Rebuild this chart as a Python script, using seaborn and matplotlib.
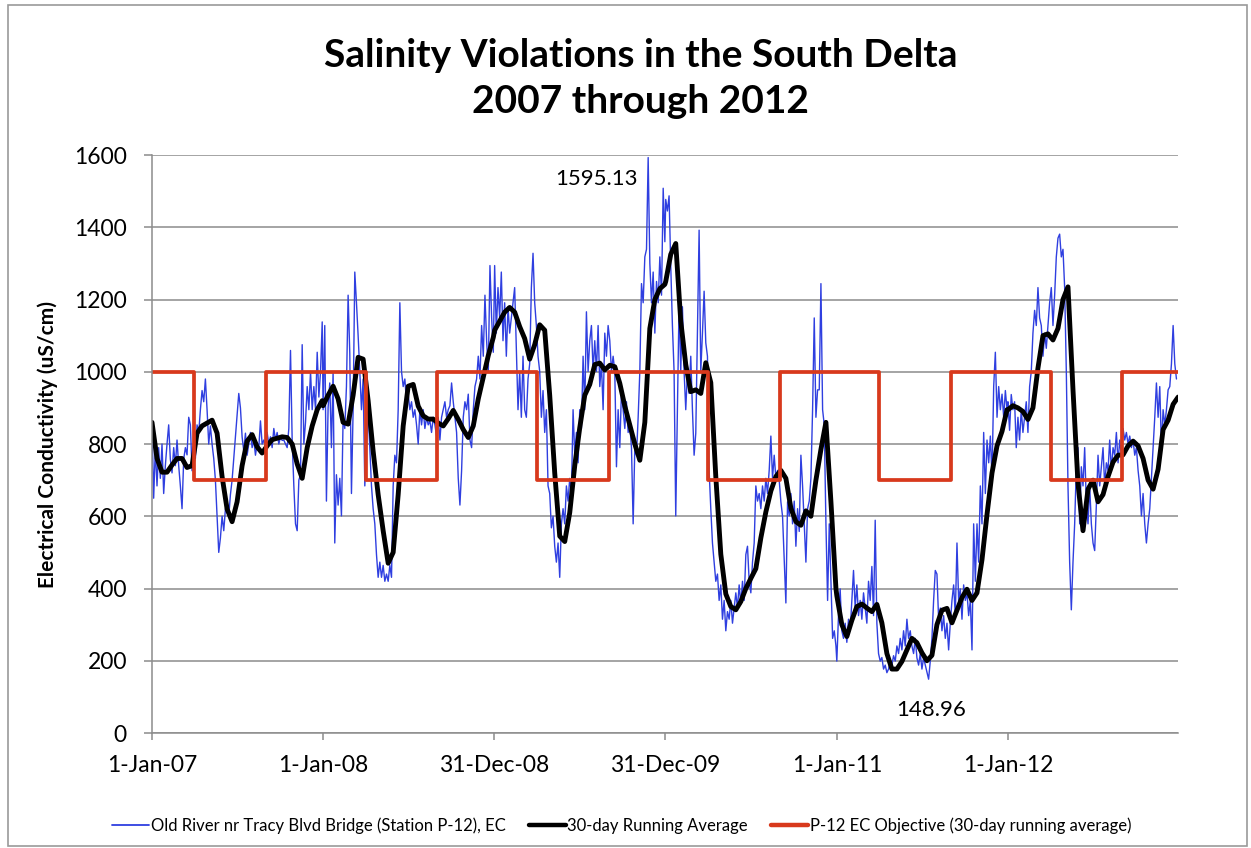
import numpy as np
import pandas as pd
import matplotlib
matplotlib.use("Agg")
import matplotlib.pyplot as plt
import matplotlib.dates as mdates
from matplotlib.lines import Line2D
from matplotlib.patches import Rectangle
import seaborn as sns

# ---------------- data ----------------
YEARS = [2007, 2008, 2009, 2010, 2011, 2012]

# Old River nr Tracy Blvd Bridge (Station P-12), EC  -- sampled about every 3.56 days
BLUE_STEP_DAYS = 3.56
BLUE_2007 = [860, 650, 790, 684, 790, 705, 800, 663, 740, 800, 853, 758, 720, 790, 740, 811, 740, 684, 621, 758,
             790, 770, 874, 853, 726, 790, 760, 853, 830, 895, 948, 917, 980, 895, 800, 850, 800, 760, 700, 600,
             500, 540, 600, 560, 620, 640, 600, 660, 700, 760, 820, 880, 940, 900, 820, 780, 830, 769, 800, 832,
             790, 811, 769, 800, 790, 864, 800, 811, 790, 832, 800, 820, 790, 843, 811, 832, 800, 820, 810, 811,
             800, 790, 843, 1059, 811, 684, 579, 560, 700, 715, 1075, 800, 860, 959, 895, 1001, 895, 959, 895, 1054,
             930, 1001, 1138]
BLUE_2008 = [895, 1128, 642, 900, 969, 790, 1000, 526, 715, 631, 705, 601, 874, 843, 959, 1212, 1050, 663, 895, 1276,
             1191, 1100, 1001, 895, 980, 684, 790, 895, 790, 684, 621, 579, 494, 431, 473, 431, 464, 420, 440, 420,
             464, 431, 684, 769, 748, 895, 1191, 1001, 959, 980, 917, 938, 895, 917, 874, 895, 853, 800, 895, 853,
             895, 843, 874, 853, 864, 832, 874, 853, 822, 874, 811, 874, 895, 917, 874, 895, 906, 969, 917, 874,
             832, 705, 631, 726, 874, 917, 895, 938, 811, 790, 895, 959, 980, 1043, 980, 1128, 1043, 1212, 1086, 1001,
             1294, 1150, 1054]
BLUE_2009 = [1294, 1107, 1233, 1150, 1276, 1086, 1191, 1043, 1180, 1107, 1150, 1191, 1233, 1065, 895, 1001, 874, 1043, 895, 874,
             980, 1022, 1233, 1328, 1191, 1128, 1043, 1001, 874, 948, 832, 895, 684, 663, 568, 600, 517, 473, 526, 431,
             579, 621, 579, 684, 642, 705, 663, 895, 769, 832, 748, 895, 843, 1043, 895, 1166, 1001, 1086, 1128, 1001,
             1086, 1001, 1128, 959, 1022, 895, 1107, 1043, 1128, 1086, 1001, 1043, 1001, 737, 895, 790, 948, 895, 843, 917,
             832, 853, 790, 579, 790, 769, 874, 1001, 1244, 1191, 1318, 1339, 1593, 1300, 1191, 1276, 1107, 1250, 1191, 1318,
             1212, 1508, 1360]
BLUE_2010 = [1477, 1445, 1487, 1294, 1128, 1001, 601, 900, 1191, 1001, 1180, 1001, 895, 1001, 940, 1043, 895, 769, 830, 1107,
             1392, 1001, 1107, 1223, 1080, 1043, 727, 621, 526, 473, 420, 440, 367, 410, 315, 367, 283, 336, 315, 367,
             304, 346, 388, 346, 410, 357, 420, 367, 494, 517, 420, 388, 473, 526, 684, 642, 663, 621, 684, 642,
             705, 663, 727, 822, 705, 769, 705, 727, 700, 640, 600, 480, 360, 640, 601, 663, 579, 642, 517, 621,
             558, 769, 684, 579, 473, 621, 642, 705, 895, 1149, 874, 950, 950, 1244, 895, 853, 579, 367, 579, 420,
             262, 283, 241]
BLUE_2011 = [199, 325, 399, 283, 262, 304, 251, 315, 283, 367, 450, 346, 410, 325, 367, 315, 388, 346, 304, 420,
             367, 461, 325, 589, 304, 220, 199, 209, 177, 188, 167, 177, 199, 188, 214, 199, 241, 220, 262, 230,
             283, 241, 315, 262, 283, 241, 220, 262, 208, 188, 220, 177, 208, 188, 167, 149, 199, 262, 367, 450,
             440, 315, 346, 283, 325, 262, 304, 230, 304, 367, 410, 325, 526, 367, 399, 315, 410, 367, 388, 325,
             367, 230, 579, 420, 579, 473, 684, 579, 832, 663, 811, 748, 822, 705, 959, 1054, 874, 959, 895, 938,
             874, 948, 895]
BLUE_2012 = [917, 838, 937, 895, 917, 790, 874, 811, 895, 832, 874, 917, 832, 959, 1001, 1107, 1170, 1128, 1233, 1149,
             1128, 1043, 1107, 1065, 1128, 1191, 1233, 1128, 1212, 1318, 1370, 1381, 1318, 1339, 1233, 1001, 684, 473, 341, 473,
             579, 737, 790, 579, 737, 684, 790, 632, 579, 684, 579, 526, 505, 632, 769, 684, 737, 790, 684, 748,
             727, 811, 727, 790, 769, 832, 748, 811, 769, 843, 811, 832, 800, 822, 790, 811, 769, 790, 727, 684,
             601, 663, 579, 526, 579, 621, 705, 790, 874, 969, 874, 959, 790, 895, 853, 895, 950, 959, 1022, 1128,
             1022, 980]

# 30-day Running Average -- sampled about every 10.68 days
BLACK_STEP_DAYS = 10.68
BLACK_2007 = [860, 760, 722, 722, 742, 760, 760, 735, 740, 830, 850, 858, 866, 830, 710, 620, 585, 640, 740, 808,
              826, 792, 775, 795, 812, 816, 820, 818, 800, 745, 705, 790, 850, 895, 920]
BLACK_2008 = [906, 935, 960, 925, 860, 855, 935, 1040, 1035, 920, 780, 660, 560, 470, 500, 660, 850, 960, 965, 905,
              878, 869, 869, 858, 850, 870, 893, 868, 840, 818, 850, 925, 985, 1045, 1095]
BLACK_2009 = [1115, 1140, 1165, 1178, 1165, 1125, 1092, 1035, 1075, 1130, 1115, 935, 720, 545, 530, 610, 740, 845, 935, 965,
              1020, 1024, 1005, 1018, 1014, 968, 905, 853, 800, 755, 860, 1120, 1200, 1230, 1242]
BLACK_2010 = [1250, 1325, 1355, 1140, 1020, 945, 950, 940, 1025, 970, 710, 495, 385, 350, 341, 364, 400, 428, 455, 540,
              612, 670, 710, 727, 705, 622, 585, 575, 615, 600, 700, 785, 860, 640, 400]
BLACK_2011 = [380, 300, 267, 312, 350, 357, 346, 336, 356, 305, 220, 177, 177, 198, 230, 262, 250, 222, 200, 215,
              300, 340, 345, 305, 340, 375, 398, 367, 388, 480, 605, 720, 795, 835, 895]
BLACK_2012 = [895, 906, 900, 890, 868, 900, 1010, 1100, 1105, 1088, 1120, 1200, 1235, 950, 690, 560, 675, 700, 640, 660,
              710, 750, 769, 770, 795, 808, 795, 760, 700, 675, 730, 840, 866, 910, 930]

# P-12 EC Objective (30-day running average): step changes
OBJ_DATES = ["2007-01-01", "2007-04-01", "2007-09-01", "2008-04-01", "2008-09-01", "2009-04-01", "2009-09-01",
             "2010-04-01", "2010-09-01", "2011-04-01", "2011-09-01", "2012-04-01", "2012-09-01", "2012-12-29"]
OBJ_VALUES = [1000, 700, 1000, 700, 1000, 700, 1000, 700, 1000, 700, 1000, 700, 1000, 1000]

TICK_DATES = ["2007-01-01", "2008-01-01", "2008-12-31", "2009-12-31", "2011-01-01", "2012-01-01"]
TICK_LABELS = ["1-Jan-07", "1-Jan-08", "31-Dec-08", "31-Dec-09", "1-Jan-11", "1-Jan-12"]

MAX_LABEL = "1595.13"
MIN_LABEL = "148.96"

LEGEND_LABELS = ["Old River nr Tracy Blvd Bridge (Station P-12), EC",
                 "30-day Running Average",
                 "P-12 EC Objective (30-day running average)"]


def build(year_lists, step):
    rows = []
    for yr, vals in zip(YEARS, year_lists):
        t0 = pd.Timestamp(f"{yr}-01-01")
        for i, v in enumerate(vals):
            rows.append((t0 + pd.Timedelta(days=i * step), v))
    return pd.DataFrame(rows, columns=["date", "ec"])


blue = build([BLUE_2007, BLUE_2008, BLUE_2009, BLUE_2010, BLUE_2011, BLUE_2012], BLUE_STEP_DAYS)
black = build([BLACK_2007, BLACK_2008, BLACK_2009, BLACK_2010, BLACK_2011, BLACK_2012], BLACK_STEP_DAYS)
obj = pd.DataFrame({"date": pd.to_datetime(OBJ_DATES), "ec": OBJ_VALUES})

# ---------------- style ----------------
sns.set_style("white")
plt.rcParams["font.family"] = ["Lato", "DejaVu Sans"]
plt.rcParams["text.color"] = "black"

BLUE_C = "#2f3fe0"
RED_C = "#d8391c"
GRID_C = "#8c8c8c"

fig = plt.figure(figsize=(12.51, 8.48), dpi=100)
ax = fig.add_axes([0.1215, 0.1356, 0.8202, 0.6816])

sns.lineplot(data=blue, x="date", y="ec", ax=ax, color=BLUE_C, linewidth=1.0, estimator=None)
sns.lineplot(data=black, x="date", y="ec", ax=ax, color="black", linewidth=3.5, estimator=None)
sns.lineplot(data=obj, x="date", y="ec", ax=ax, color=RED_C, linewidth=2.7, estimator=None,
             drawstyle="steps-post")

ax.set_xlim(pd.Timestamp("2007-01-01"), pd.Timestamp("2012-12-29"))
ax.set_ylim(0, 1600)
ax.set_yticks(range(0, 1601, 200))
ax.set_xticks(pd.to_datetime(TICK_DATES))
ax.set_xticklabels(TICK_LABELS)

ax.grid(axis="y", color=GRID_C, linewidth=1.1)
ax.grid(axis="x", visible=False)
ax.set_axisbelow(True)
for s in ["top", "right"]:
    ax.spines[s].set_visible(False)
for s in ["left", "bottom"]:
    ax.spines[s].set_color(GRID_C)
    ax.spines[s].set_linewidth(1.1)

ax.tick_params(axis="y", direction="out", length=6, width=1.1, color=GRID_C, pad=12,
               labelsize=16.5, labelcolor="black", left=True)
ax.tick_params(axis="x", direction="out", length=5, width=1.1, color=GRID_C, pad=11,
               labelsize=16.5, labelcolor="black", bottom=True)
ax.set_xlabel("")
ax.set_ylabel("")

fig.text(0.038, 0.476, "Electrical Conductivity (uS/cm)", rotation=90, ha="center", va="center",
         fontsize=15, fontweight="bold", color="black")

fig.text(0.512, 0.934, "Salinity Violations in the South Delta", ha="center", va="center",
         fontsize=28, fontweight="bold", color="black")
fig.text(0.512, 0.880, "2007 through 2012", ha="center", va="center",
         fontsize=28, fontweight="bold", color="black")

# annotations placed relative to the extreme points of the series
imax = blue["ec"].idxmax()
imin = blue["ec"].idxmin()
ax.text(blue.loc[imax, "date"] - pd.Timedelta(days=110), blue.loc[imax, "ec"] - 60, MAX_LABEL,
        ha="center", va="center", fontsize=16, color="black")
ax.text(blue.loc[imin, "date"] + pd.Timedelta(days=5), blue.loc[imin, "ec"] - 85, MIN_LABEL,
        ha="center", va="center", fontsize=16, color="black")

handles = [Line2D([], [], color=BLUE_C, linewidth=1.3),
           Line2D([], [], color="black", linewidth=3.2),
           Line2D([], [], color=RED_C, linewidth=3.2)]
leg = fig.legend(handles, LEGEND_LABELS, loc="center", bbox_to_anchor=(0.497, 0.026), ncol=3, frameon=False,
                 fontsize=12, handlelength=2.2, handletextpad=0.1, columnspacing=1.4)
for t in leg.get_texts():
    t.set_color("black")

fig.patches.append(Rectangle((0.0064, 0.0024), 0.9904, 0.9917, transform=fig.transFigure,
                             fill=False, edgecolor="#9a9a9a", linewidth=1.2))

fig.savefig("out.png", dpi=100)
